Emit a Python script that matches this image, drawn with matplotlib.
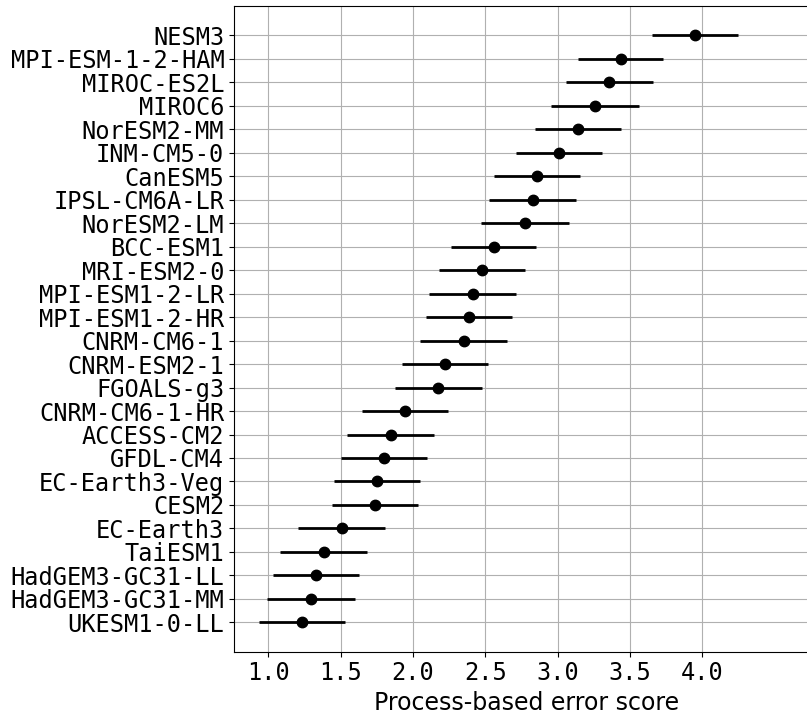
import matplotlib
matplotlib.use("Agg")
import matplotlib.pyplot as plt

models = ["NESM3", "MPI-ESM-1-2-HAM", "MIROC-ES2L", "MIROC6", "NorESM2-MM",
          "INM-CM5-0", "CanESM5", "IPSL-CM6A-LR", "NorESM2-LM", "BCC-ESM1",
          "MRI-ESM2-0", "MPI-ESM1-2-LR", "MPI-ESM1-2-HR", "CNRM-CM6-1",
          "CNRM-ESM2-1", "FGOALS-g3", "CNRM-CM6-1-HR", "ACCESS-CM2", "GFDL-CM4",
          "EC-Earth3-Veg", "CESM2", "EC-Earth3", "TaiESM1", "HadGEM3-GC31-LL",
          "HadGEM3-GC31-MM", "UKESM1-0-LL"]
scores = [3.95, 3.435, 3.358, 3.259, 3.14, 3.01, 2.856, 2.828, 2.775, 2.557,
          2.478, 2.413, 2.386, 2.35, 2.222, 2.175, 1.943, 1.845, 1.80, 1.752,
          1.738, 1.508, 1.382, 1.33, 1.294, 1.23]
errors = [0.297, 0.296, 0.30, 0.302, 0.298, 0.298, 0.298, 0.302, 0.302, 0.297,
          0.30, 0.30, 0.298, 0.302, 0.30, 0.302, 0.297, 0.30, 0.297, 0.30,
          0.30, 0.302, 0.30, 0.298, 0.302, 0.297]
xticks = [1.0, 1.5, 2.0, 2.5, 3.0, 3.5, 4.0]

fig = plt.figure(figsize=(8.07, 7.17), dpi=100)
ax = fig.add_axes([0.290, 0.0911, 0.7254, 0.9005])

n = len(models)
ypos = list(range(n - 1, -1, -1))
ax.errorbar(scores, ypos, xerr=errors, fmt="o", color="black",
            markersize=7.5, elinewidth=2, capsize=0, zorder=3)

ax.set_yticks(ypos)
ax.set_yticklabels(models, family="DejaVu Sans Mono", fontsize=17)
ax.set_xticks(xticks)
ax.set_xticklabels([f"{t:.1f}" for t in xticks], family="DejaVu Sans Mono", fontsize=17)
ax.set_xlim(0.763, 4.81)
ax.set_ylim(-1.25, n - 1 + 1.25)
ax.grid(True, color="#b0b0b0", linewidth=0.8)
ax.set_axisbelow(True)
ax.set_xlabel("Process-based error score", fontsize=17)

fig.savefig("out.png", dpi=100)
